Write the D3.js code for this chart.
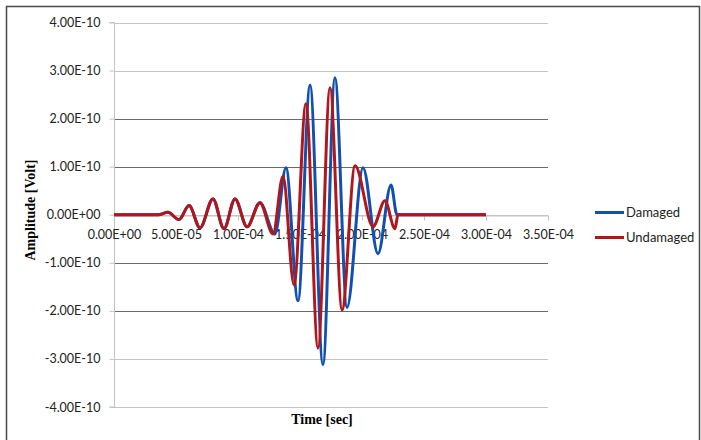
<!DOCTYPE html>
<html>
<head>
<meta charset="utf-8">
<script src="https://cdn.jsdelivr.net/npm/d3@7"></script>
<style>
  body { margin: 0; background: #fff; }
  svg { display: block; }
</style>
</head>
<body>
<svg id="chart"></svg>
<script>
// time in microseconds, amplitude in 1e-10 V (at peaks/troughs)
var damagedTime = [0, 35.5, 43.5, 52.4, 60.5, 69.4, 79.8, 88.7, 97.6, 107.3, 117.7, 129.8,
                   138.7, 148.4, 158.1, 168.5, 178.2, 187.9, 200.8, 212.9, 223.4, 228.2, 300];
var damagedAmp  = [0, 0, 0.05, -0.10, 0.19, -0.27, 0.33, -0.29, 0.33, -0.25, 0.25, -0.40,
                   0.98, -1.79, 2.70, -3.12, 2.85, -1.93, 0.98, -0.81, 0.62, 0, 0];

var undamagedTime = [0, 35.5, 43.5, 52.4, 60.5, 69.4, 79.8, 88.7, 97.6, 107.3, 117.7, 128.2,
                     136.3, 145.2, 154.8, 164.5, 174.2, 183.9, 194.4, 208.9, 218.5, 226.6, 229, 300];
var undamagedAmp  = [0, 0, 0.05, -0.10, 0.19, -0.27, 0.33, -0.29, 0.33, -0.25, 0.25, -0.40,
                     0.80, -1.46, 2.31, -2.77, 2.64, -1.98, 1.02, -0.25, 0.29, -0.29, 0, 0];

var xTicks = [0, 5e-5, 1e-4, 1.5e-4, 2e-4, 2.5e-4, 3e-4, 3.5e-4];
var yTicks = [4e-10, 3e-10, 2e-10, 1e-10, 0, -1e-10, -2e-10, -3e-10, -4e-10];

var seriesNames = ['Damaged', 'Undamaged'];
var seriesColors = ['#1150ad', '#b0161c'];

var width = 701,
    height = 440;

var svg = d3.select('#chart')
    .attr('width', width)
    .attr('height', height);

// chart frame
svg.append('rect')
    .attr('x', 6.5).attr('y', 6.5)
    .attr('width', 693).attr('height', 440)
    .attr('fill', 'none')
    .attr('stroke', '#4a4a4a')
    .attr('stroke-width', 1.5);

var x = d3.scaleLinear().domain([0, 3.5e-4]).range([114, 548]);
var y = d3.scaleLinear().domain([-4e-10, 4e-10]).range([407, 22.5]);

function sci(v) {
  if (v === 0) return '0.00E+00';
  var e = Math.floor(Math.log10(Math.abs(v)) + 1e-9);
  var m = v / Math.pow(10, e);
  var es = (e < 0 ? '-' : '+') + String(Math.abs(e)).padStart(2, '0');
  return m.toFixed(2) + 'E' + es;
}

// gridlines
svg.append('g')
    .selectAll('line')
    .data(yTicks)
    .enter().append('line')
    .attr('x1', 114).attr('x2', 548)
    .attr('y1', function(d) { return Math.round(y(d)) + 0.5; })
    .attr('y2', function(d) { return Math.round(y(d)) + 0.5; })
    .attr('stroke', function(d) {
      var a = Math.abs(Math.round(d * 1e10));
      return (a === 1 || a === 2) ? '#6a6a6a' : '#c4c4c4';
    })
    .attr('stroke-width', 1);

// y axis
var yAxis = d3.axisLeft(y)
    .tickValues(yTicks)
    .tickFormat(sci)
    .tickSize(5)
    .tickPadding(9);

var gy = svg.append('g')
    .attr('transform', 'translate(114.5,0)')
    .call(yAxis);

gy.select('.domain').attr('stroke', '#c4c4c4').attr('d', 'M-5,' + y(4e-10) + 'H0V' + y(-4e-10) + 'H-5');
gy.selectAll('.tick line').attr('stroke', '#c4c4c4');
gy.selectAll('.tick text')
    .style('font-family', 'Lato, "Open Sans", sans-serif')
    .style('font-size', '12.5px')
    .attr('fill', '#222');

// x axis crossing at zero
var xAxis = d3.axisBottom(x)
    .tickValues(xTicks)
    .tickFormat(sci)
    .tickSizeInner(5)
    .tickSizeOuter(0)
    .tickPadding(10);

var gx = svg.append('g')
    .attr('transform', 'translate(0,' + (Math.round(y(0)) + 0.5) + ')')
    .call(xAxis);

gx.select('.domain').attr('stroke', '#c4c4c4');
gx.selectAll('.tick line').attr('stroke', '#c4c4c4');
gx.selectAll('.tick text')
    .style('font-family', 'Lato, "Open Sans", sans-serif')
    .style('font-size', '12.5px')
    .attr('fill', '#222');

// series
var line = d3.line()
    .x(function(d) { return x(d[0] * 1e-6); })
    .y(function(d) { return y(d[1] * 1e-10); })
    .curve(d3.curveMonotoneX);

var series = [
  d3.zip(damagedTime, damagedAmp),
  d3.zip(undamagedTime, undamagedAmp)
];

svg.append('g')
    .selectAll('path')
    .data(series)
    .enter().append('path')
    .attr('d', line)
    .attr('fill', 'none')
    .attr('stroke', function(d, i) { return seriesColors[i]; })
    .attr('stroke-width', 3)
    .attr('stroke-linejoin', 'round');

// axis titles
svg.append('text')
    .attr('transform', 'translate(35,210) rotate(-90)')
    .attr('text-anchor', 'middle')
    .style('font-family', '"Liberation Serif", "DejaVu Serif", serif')
    .style('font-weight', 'bold')
    .style('font-size', '14px')
    .text('Amplitude [Volt]');

svg.append('text')
    .attr('x', 322)
    .attr('y', 424)
    .attr('text-anchor', 'middle')
    .style('font-family', '"Liberation Serif", "DejaVu Serif", serif')
    .style('font-weight', 'bold')
    .style('font-size', '14px')
    .text('Time [sec]');

// legend
var legend = svg.append('g')
    .selectAll('g')
    .data(seriesNames)
    .enter().append('g')
    .attr('transform', function(d, i) { return 'translate(595,' + (212.5 + i * 25) + ')'; });

legend.append('line')
    .attr('x1', 0).attr('x2', 29)
    .attr('stroke', function(d, i) { return seriesColors[i]; })
    .attr('stroke-width', 3);

legend.append('text')
    .attr('x', 31)
    .attr('dy', '0.35em')
    .style('font-family', 'Lato, "Open Sans", sans-serif')
    .style('font-size', '13px')
    .attr('fill', '#222')
    .text(function(d) { return d; });
</script>
</body>
</html>
